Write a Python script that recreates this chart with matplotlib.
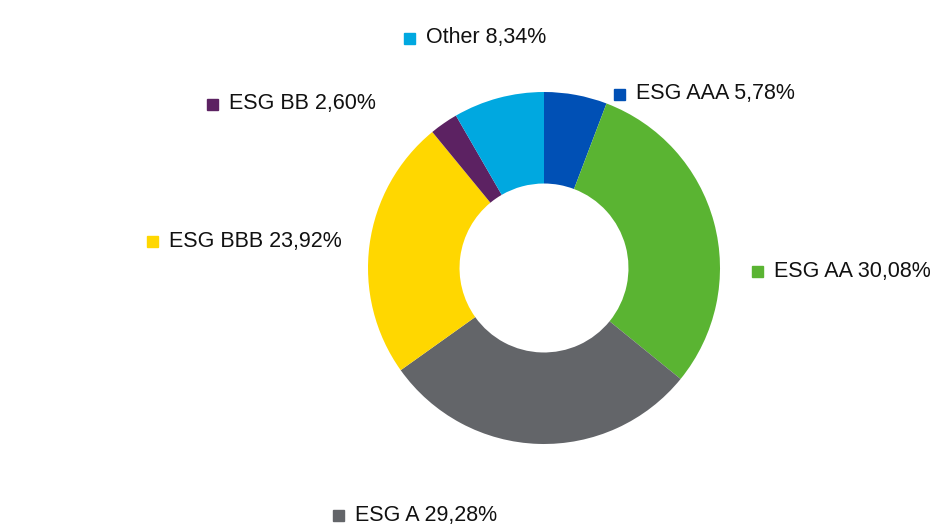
import matplotlib.pyplot as plt

labels = ['ESG AAA', 'ESG AA', 'ESG A', 'ESG BBB', 'ESG BB', 'Other']
shares = [5.78, 30.08, 29.28, 23.92, 2.60, 8.34]
colors = ['#0050b5', '#5ab432', '#636569', '#ffd700', '#5c2262', '#00a8e0']

# label anchor (square left edge px, centre y px) for each slice
label_pos = [(614, 94), (752, 271), (333, 515), (147, 241), (207, 104), (404, 38)]

W, H = 953, 529
fig = plt.figure(figsize=(W / 100, H / 100), dpi=100)
cx, cy, r = 544, 268, 176
ax = fig.add_axes([(cx - r) / W, 1 - (cy + r) / H, 2 * r / W, 2 * r / H])
ax.pie(shares, colors=colors, startangle=90, counterclock=False,
       radius=1, wedgeprops=dict(width=0.52, linewidth=0))
ax.set_xlim(-1, 1)
ax.set_ylim(-1, 1)
ax.set_aspect('equal')
ax.axis('off')

for lab, val, col, (x, y) in zip(labels, shares, colors, label_pos):
    fig.patches.append(plt.Rectangle((x / W, 1 - (y + 5.5) / H), 11 / W, 11 / H,
                                     transform=fig.transFigure, color=col))
    txt = f"{lab} {val:.2f}%".replace('.', ',')
    fig.text((x + 22) / W, 1 - y / H, txt, fontsize=15.5, family='Liberation Sans',
             va='center', ha='left', color='#111111')

fig.savefig('out.png', dpi=100)
